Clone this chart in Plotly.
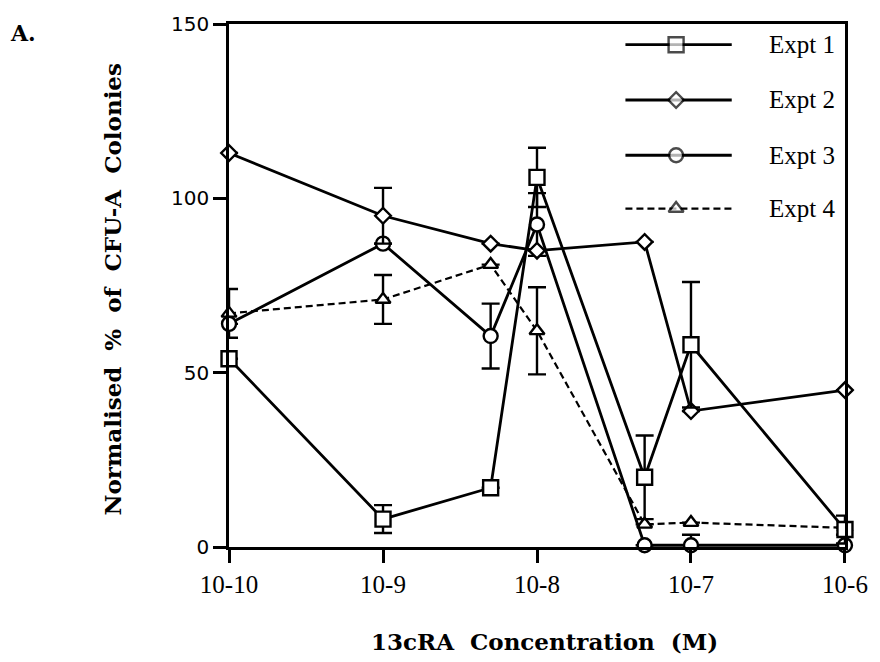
import plotly.graph_objects as go

# 13cRA concentrations (M)
conc = [1e-10, 1e-9, 5e-9, 1e-8, 5e-8, 1e-7, 1e-6]

# Normalised % of CFU-A colonies, one list per experiment (None = no value / no error bar)
expt1 = [54, 8, 17, 106, 20, 58, 5]
expt1_err = [None, 4, None, 8.5, 12, 18, 4]

expt2 = [113, 95, 87, 85, 87.5, 39, 45]
expt2_err = [None, 8, None, None, None, None, None]

expt3 = [64, 87, 60.5, 92.5, 0.5, 0.5, 0.5]
expt3_err = [None, None, 9.3, 9, None, 3, 3]

expt4 = [67, 71, 81, 62, 6.5, 7, 5.5]
expt4_err = [7, 7, None, 12.5, None, None, None]

tick_vals = [1e-10, 1e-9, 1e-8, 1e-7, 1e-6]
tick_text = ["10-10", "10-9", "10-8", "10-7", "10-6"]
y_ticks = [0, 50, 100, 150]

series_names = ["Expt 1", "Expt 2", "Expt 3", "Expt 4"]

# plot area in pixels
L, R, T, B = 229, 31, 17, 115
W, H = 880, 662

LW = 2.8
styles = {
    "Expt 1": dict(symbol="square", size=15, dash="solid", width=LW),
    "Expt 2": dict(symbol="diamond", size=12, dash="solid", width=LW),
    "Expt 3": dict(symbol="circle", size=14, dash="solid", width=LW),
    "Expt 4": dict(symbol="triangle-up", size=13, dash="7px,4px", width=2.2),
}

data = {
    "Expt 1": (expt1, expt1_err),
    "Expt 2": (expt2, expt2_err),
    "Expt 3": (expt3, expt3_err),
    "Expt 4": (expt4, expt4_err),
}

fig = go.Figure()

# draw Expt 4 first so the squares sit on top of it at the highest dose
for name in ["Expt 4", "Expt 3", "Expt 2", "Expt 1"]:
    vals, err = data[name]
    st = styles[name]
    fig.add_trace(go.Scatter(
        x=conc, y=vals, mode="lines+markers", name=name,
        line=dict(color="black", width=st["width"], dash=st["dash"]),
        marker=dict(symbol=st["symbol"], size=st["size"], color="white",
                    line=dict(color="black", width=2.4)),
        error_y=dict(type="data", array=err, symmetric=True, visible=True,
                     color="black", thickness=2.4, width=9),
        cliponaxis=False, showlegend=False,
    ))

# legend keys drawn on a pixel-scaled overlay axis
leg_rows = [38, 94, 150, 204]
leg_x0, leg_xm, leg_x1, leg_tx = 628, 679, 735, 770
for name, yy in zip(series_names, leg_rows):
    st = styles[name]
    fig.add_trace(go.Scatter(
        x=[leg_x0, leg_xm, leg_x1], y=[yy, yy, yy], mode="lines+markers",
        xaxis="x2", yaxis="y2",
        line=dict(color="black", width=st["width"], dash=st["dash"]),
        marker=dict(symbol=st["symbol"], size=[0, st["size"], 0], color="white",
                    line=dict(color="black", width=[0, 2.4, 0])),
        cliponaxis=False, showlegend=False, hoverinfo="skip",
    ))
    fig.add_annotation(x=leg_tx, y=yy, xref="x2", yref="y2", text=name,
                       showarrow=False, xanchor="left", yanchor="middle",
                       font=dict(family="Liberation Serif", size=25, color="black"))

sp = "\u00a0\u00a0"
fig.add_annotation(xref="paper", yref="paper", x=0.5, y=0, xshift=7, yshift=-94,
                   text=f"13cRA{sp}Concentration{sp}(M)", showarrow=False,
                   xanchor="center", yanchor="middle",
                   font=dict(family="DejaVu Serif", size=23, color="black", weight="bold"))
fig.add_annotation(xref="paper", yref="paper", x=0, y=0.5, xshift=-117, yshift=-4,
                   text=f"Normalised{sp}%{sp}of{sp}CFU-A{sp}Colonies", showarrow=False,
                   textangle=-90, xanchor="center", yanchor="middle",
                   font=dict(family="DejaVu Serif", size=23, color="black", weight="bold"))
fig.add_annotation(xref="paper", yref="paper", x=0, y=1, xshift=-206, yshift=-9,
                   text="A.", showarrow=False, xanchor="center", yanchor="middle",
                   font=dict(family="DejaVu Serif", size=22, color="black", weight="bold"))

fig.update_layout(
    width=W, height=H,
    margin=dict(l=L, r=R, t=T, b=B),
    paper_bgcolor="white", plot_bgcolor="white",
    xaxis=dict(type="log", range=[-10.0002, -5.9998], tickvals=tick_vals, ticktext=tick_text,
               ticks="outside", ticklen=13, tickwidth=2.5, tickcolor="black",
               showline=True, linewidth=2.5, linecolor="black", mirror=True,
               showgrid=False, zeroline=False,
               tickfont=dict(family="Liberation Serif", size=25, color="black")),
    yaxis=dict(range=[0, 150], tickvals=y_ticks,
               ticks="outside", ticklen=13, tickwidth=2.5, tickcolor="black",
               showline=True, linewidth=2.5, linecolor="black", mirror=True,
               showgrid=False, zeroline=False,
               tickfont=dict(family="DejaVu Sans", size=20, color="black")),
    xaxis2=dict(overlaying="x", range=[L, W - R], visible=False, fixedrange=True),
    yaxis2=dict(overlaying="y", range=[H - B, T], visible=False, fixedrange=True),
)

fig.write_html("out.html")
